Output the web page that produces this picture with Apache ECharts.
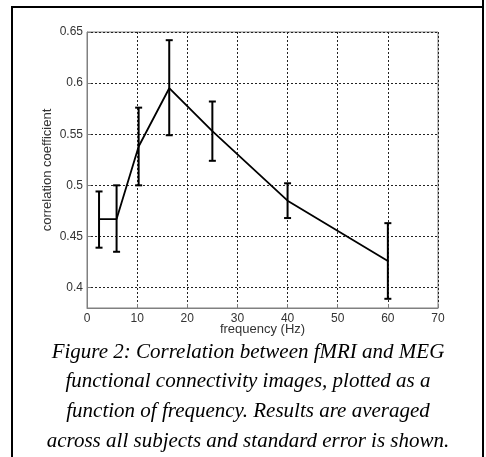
<!DOCTYPE html>
<html>
<head>
<meta charset="utf-8">
<script src="https://cdn.jsdelivr.net/npm/echarts@6/dist/echarts.min.js"></script>
<style>
html,body{margin:0;padding:0;background:#fff;}
#chart{width:486px;height:457px;}
</style>
</head>
<body>
<div id="chart"></div>
<script>
// Data
const frequency = [2.4, 5.9, 10.3, 16.4, 25, 40, 60];
const meanCorr  = [0.467, 0.467, 0.538, 0.595, 0.553, 0.485, 0.426];
const upperErr  = [0.494, 0.500, 0.576, 0.642, 0.582, 0.502, 0.463];
const lowerErr  = [0.439, 0.435, 0.500, 0.549, 0.524, 0.468, 0.389];
const yTicks = [0.4, 0.45, 0.5, 0.55, 0.6, 0.65];
const yTickLabels = ['0.4', '0.45', '0.5', '0.55', '0.6', '0.65'];
const xAxisTitle = 'frequency (Hz)';
const yAxisTitle = 'correlation coefficient';
const captionLines = [
  'Figure 2: Correlation between fMRI and MEG',
  'functional connectivity images, plotted as a',
  'function of frequency. Results are averaged',
  'across all subjects and standard error is shown.'
];

const chart = echarts.init(document.getElementById('chart'), null, {renderer: 'canvas'});

const lineData = frequency.map((f, i) => [f, meanCorr[i]]);
const errData = frequency.map((f, i) => [f, lowerErr[i], upperErr[i]]);

const gridColor = '#222';
const boxColor = '#808080';
const labelFont = {fontFamily: 'Liberation Sans, Arial, sans-serif', fontSize: 12, color: '#333'};
const titleFont = {fontFamily: 'Liberation Sans, Arial, sans-serif', fontSize: 13, color: '#333'};

const option = {
  backgroundColor: '#fff',
  animation: false,
  grid: {left: 87, right: 48, top: 32, bottom: 149, show: true, borderColor: boxColor, borderWidth: 1, backgroundColor: 'transparent'},
  xAxis: {
    type: 'value', min: 0, max: 70, interval: 10,
    name: xAxisTitle, nameLocation: 'middle', nameGap: 15, nameMoveOverlap: false,
    nameTextStyle: titleFont,
    axisLine: {show: true, lineStyle: {color: boxColor, width: 1}},
    axisTick: {show: true, inside: true, length: 4, lineStyle: {color: boxColor}},
    axisLabel: Object.assign({margin: 5}, labelFont),
    splitLine: {show: true, lineStyle: {color: gridColor, type: [2, 2], width: 1}}
  },
  yAxis: {
    type: 'value', min: 0.38, max: 0.65,
    name: yAxisTitle, nameLocation: 'middle', nameGap: 33, nameRotate: 90, nameMoveOverlap: false,
    nameTextStyle: titleFont,
    axisLine: {show: true, lineStyle: {color: boxColor, width: 1}},
    axisTick: {show: true, inside: true, length: 4, lineStyle: {color: boxColor}, customValues: yTicks},
    axisLabel: Object.assign({margin: 4, customValues: yTicks, formatter: v => {
      const i = yTicks.findIndex(t => Math.abs(t - v) < 1e-9);
      return i >= 0 ? yTickLabels[i] : '';
    }}, labelFont),
    splitLine: {show: true, lineStyle: {color: gridColor, type: [2, 2], width: 1}}
  },
  series: [
    {
      type: 'line', data: lineData, symbol: 'none',
      lineStyle: {color: '#000', width: 1.8}, z: 3
    },
    {
      type: 'custom', data: errData, z: 4,
      renderItem: function (params, api) {
        const x = api.value(0);
        const lo = api.coord([x, api.value(1)]);
        const hi = api.coord([x, api.value(2)]);
        const cap = 3.5;
        const style = {stroke: '#000', lineWidth: 2};
        return {
          type: 'group',
          children: [
            {type: 'line', shape: {x1: lo[0], y1: lo[1], x2: hi[0], y2: hi[1]}, style: style},
            {type: 'line', shape: {x1: hi[0] - cap, y1: hi[1], x2: hi[0] + cap, y2: hi[1]}, style: style},
            {type: 'line', shape: {x1: lo[0] - cap, y1: lo[1], x2: lo[0] + cap, y2: lo[1]}, style: style}
          ]
        };
      }
    }
  ],
  graphic: [
    {type: 'line', shape: {x1: 11, y1: 7, x2: 483, y2: 7}, style: {stroke: '#000', lineWidth: 2}},
    {type: 'line', shape: {x1: 12, y1: 6, x2: 12, y2: 457}, style: {stroke: '#000', lineWidth: 2}},
    {type: 'line', shape: {x1: 483, y1: 0, x2: 483, y2: 457}, style: {stroke: '#000', lineWidth: 2}}
  ].concat(captionLines.map((t, i) => ({
    type: 'text', x: 248, y: 352 + i * 29.8,
    style: {text: t, fontFamily: 'Liberation Serif, Times New Roman, serif', fontStyle: 'italic', fontSize: 21,
            fill: '#000', align: 'center', verticalAlign: 'middle'}
  })))
};
chart.setOption(option);
</script>
</body>
</html>
